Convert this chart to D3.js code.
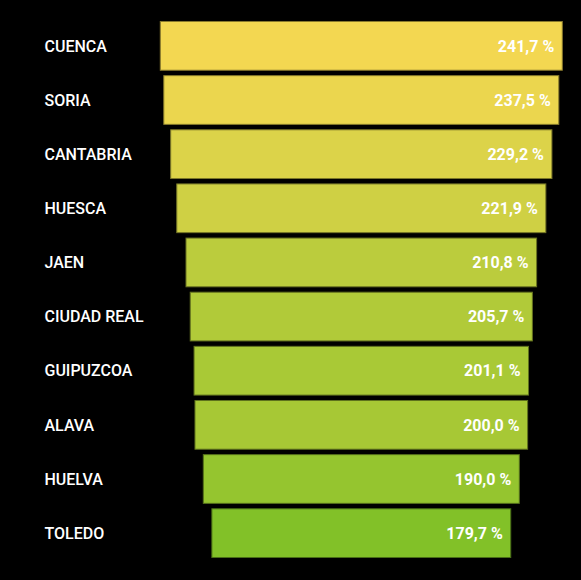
<!DOCTYPE html>
<html>
<head>
<meta charset="utf-8">
<script src="https://cdn.jsdelivr.net/npm/d3@7"></script>
<style>
  html, body { margin: 0; padding: 0; background: #000; }
  svg { display: block; }
</style>
</head>
<body>
<script>
const SVG_WIDTH = 581;
const SVG_HEIGHT = 580;
const CENTER_X = 361.3;

const provinces = ['CUENCA', 'SORIA', 'CANTABRIA', 'HUESCA', 'JAEN', 'CIUDAD REAL', 'GUIPUZCOA', 'ALAVA', 'HUELVA', 'TOLEDO'];
const values = [241.7, 237.5, 229.2, 221.9, 210.8, 205.7, 201.1, 200.0, 190.0, 179.7];

const fmt = v => v.toFixed(1).replace('.', ',') + ' %';

const svg = d3.select('body').append('svg')
    .attr('width', SVG_WIDTH)
    .attr('height', SVG_HEIGHT)
    .style('font-family', 'Roboto, "DejaVu Sans", sans-serif');

svg.append('rect')
  .attr('width', SVG_WIDTH)
  .attr('height', SVG_HEIGHT)
  .attr('fill', '#000');

const y = d3.scaleBand()
  .domain(provinces)
  .range([21.5, 557.5])
  .paddingInner(0.1)
  .paddingOuter(0);

// bar width from zero, bars centred like a funnel
const w = d3.scaleLinear()
  .domain([0, d3.max(values)])
  .range([0, 402]);

let colorScale = d3.scaleLinear()
  .domain([d3.min(values), d3.max(values)])
  .range(['#82c128', '#f3d751']);

const rows = svg.selectAll('g.row')
  .data(provinces.map((p, i) => ({ name: p, value: values[i] })))
  .join('g')
  .attr('class', 'row')
  .attr('transform', d => `translate(0,${y(d.name)})`);

rows.append('rect')
  .attr('x', d => CENTER_X - w(d.value) / 2)
  .attr('y', 0)
  .attr('width', d => w(d.value))
  .attr('height', y.bandwidth())
  .attr('fill', d => colorScale(d.value))
  .attr('stroke', d => d3.color(colorScale(d.value)).darker(1.6))
  .attr('stroke-width', 1);

rows.append('text')
  .attr('x', 44.5)
  .attr('y', y.bandwidth() / 2)
  .attr('dy', '0.36em')
  .attr('fill', '#fff')
  .attr('font-size', 16)
  .attr('font-weight', 500)
  .text(d => d.name);

rows.append('text')
  .attr('x', d => CENTER_X + w(d.value) / 2 - 8)
  .attr('y', y.bandwidth() / 2)
  .attr('dy', '0.36em')
  .attr('text-anchor', 'end')
  .attr('fill', '#fff')
  .attr('font-size', 16)
  .attr('font-weight', 700)
  .text(d => fmt(d.value));
</script>
</body>
</html>
